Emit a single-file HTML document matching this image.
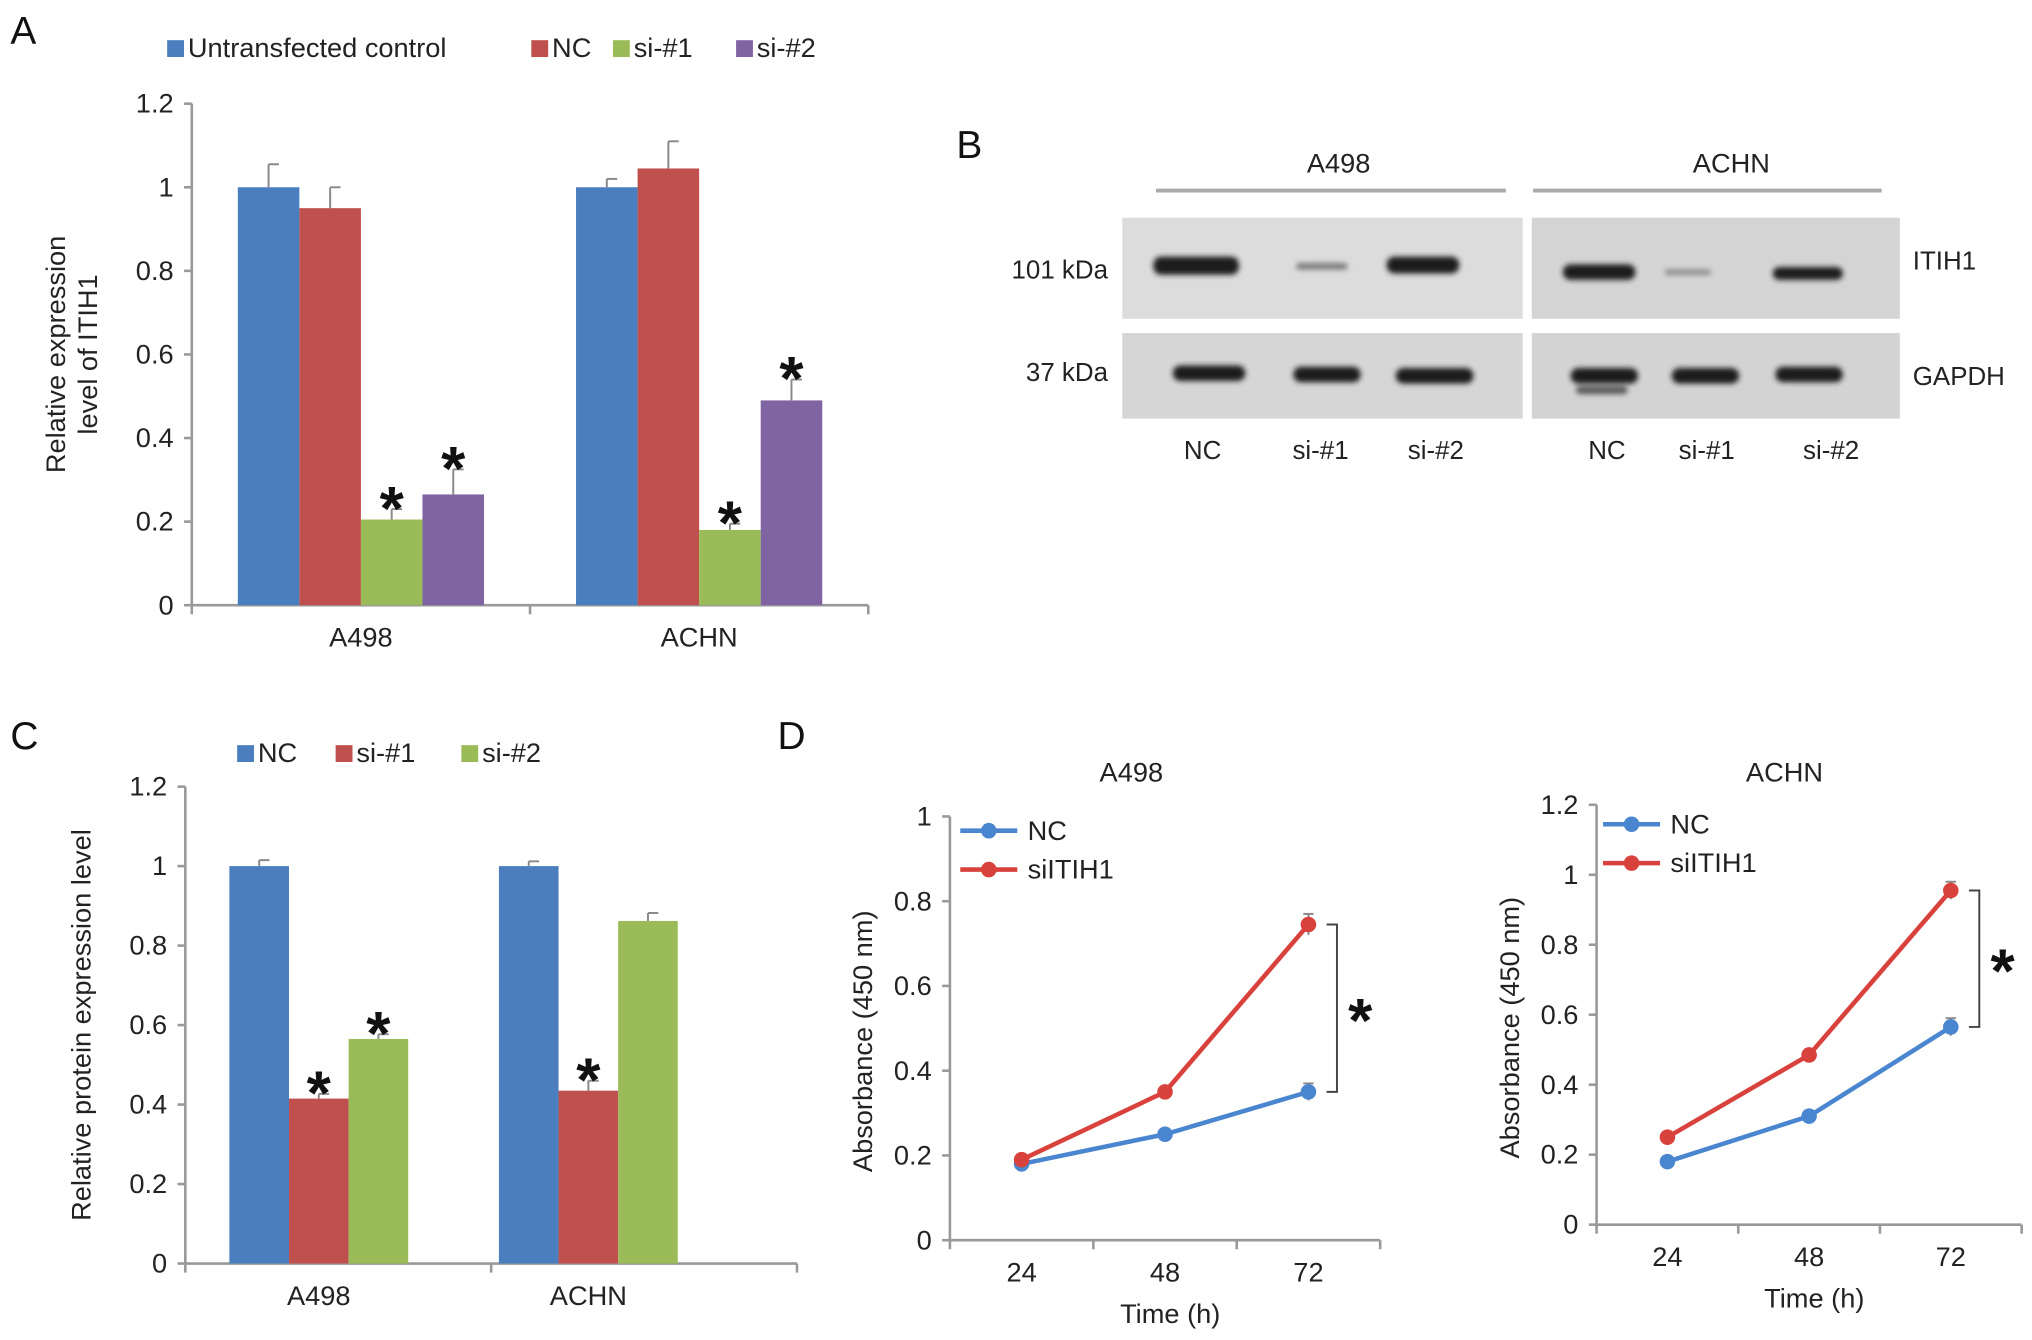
<!DOCTYPE html>
<html><head><meta charset="utf-8"><style>
html,body{margin:0;padding:0;background:#fff;}
svg{display:block;font-family:"Liberation Sans",Arial,sans-serif;}
</style></head><body>
<svg id="fig" width="2032" height="1340" viewBox="0 0 1568 1034" xmlns="http://www.w3.org/2000/svg">
<defs>
<filter id="blur1"><feGaussianBlur stdDeviation="2"/></filter>
</defs>
<g font-size="30" fill="#111">
<text x="8" y="34">A</text>
<text x="738" y="122">B</text>
<text x="8" y="578">C</text>
<text x="600" y="578">D</text>
</g>
<g>
<line x1="892" y1="147" x2="1162" y2="147" stroke="#aaa" stroke-width="3"/>
<line x1="1183" y1="147" x2="1452" y2="147" stroke="#aaa" stroke-width="3"/>
<text x="1033" y="133" font-size="21" text-anchor="middle" fill="#222">A498</text>
<text x="1336" y="133" font-size="21" text-anchor="middle" fill="#222">ACHN</text>
<text x="855" y="215" font-size="20" text-anchor="end" fill="#222">101 kDa</text>
<text x="855" y="294" font-size="20" text-anchor="end" fill="#222">37 kDa</text>
<text x="1476" y="208" font-size="20" fill="#222">ITIH1</text>
<text x="1476" y="297" font-size="20" fill="#222">GAPDH</text>
<rect x="866" y="168" width="309" height="78" fill="#dcdcdc"/>
<rect x="1182" y="168" width="284" height="78" fill="#d4d4d4"/>
<rect x="866" y="257" width="309" height="66" fill="#d6d6d6"/>
<rect x="1182" y="257" width="284" height="66" fill="#d3d3d3"/>
<g filter="url(#blur1)" fill="#1a1a1a">
<rect x="890" y="198" width="66" height="14" rx="6"/>
<rect x="1000" y="203" width="40" height="5" rx="3" fill="#777"/>
<rect x="1070" y="198" width="56" height="13" rx="6"/>
<rect x="1206" y="204" width="56" height="12" rx="6"/>
<rect x="1285" y="208" width="35" height="4" fill="#888"/>
<rect x="1368" y="206" width="54" height="10" rx="5"/>
<rect x="905" y="282" width="56" height="12" rx="6"/>
<rect x="998" y="283" width="52" height="12" rx="6"/>
<rect x="1077" y="284" width="60" height="12" rx="6"/>
<rect x="1212" y="284" width="52" height="12" rx="6"/>
<rect x="1290" y="284" width="52" height="12" rx="6"/>
<rect x="1370" y="283" width="52" height="12" rx="6"/>
<rect x="1216" y="298" width="40" height="6" rx="3" fill="#555"/>
</g>
<g font-size="20" fill="#222" text-anchor="middle">
<text x="928" y="354">NC</text><text x="1019" y="354">si-#1</text><text x="1108" y="354">si-#2</text>
<text x="1240" y="354">NC</text><text x="1317" y="354">si-#1</text><text x="1413" y="354">si-#2</text>
</g>
</g>
<g id="panelA"></g>
<g id="panelC"></g>
<g id="panelD1"></g>
<g id="panelD2"></g>
</svg>
<script>
// Panel A data
const aCategories = ["A498", "ACHN"];
const aSeriesNames = ["Untransfected control", "NC", "si-#1", "si-#2"];
const aValues = [[1.0, 0.95, 0.205, 0.265], [1.0, 1.045, 0.18, 0.49]];
const aErrors = [[0.055, 0.05, 0.025, 0.06], [0.02, 0.065, 0.015, 0.05]];
const aStars = [[false, false, true, true], [false, false, true, true]];
const aTicks = ["0", "0.2", "0.4", "0.6", "0.8", "1", "1.2"];
// Panel C data
const cCategories = ["A498", "ACHN"];
const cSeriesNames = ["NC", "si-#1", "si-#2"];
const cValues = [[1.0, 0.415, 0.565], [1.0, 0.435, 0.862]];
const cErrors = [[0.015, 0.012, 0.012], [0.012, 0.025, 0.02]];
const cStars = [[false, true, true], [false, true, false]];
const cTicks = ["0", "0.2", "0.4", "0.6", "0.8", "1", "1.2"];
// Panel D data
const dTimes = ["24", "48", "72"];
const d1NC = [0.18, 0.25, 0.35];
const d1Si = [0.19, 0.35, 0.745];
const d1NCErr = [0.01, 0.01, 0.02];
const d1SiErr = [0.01, 0.01, 0.025];
const d1Ticks = ["0", "0.2", "0.4", "0.6", "0.8", "1"];
const d2NC = [0.18, 0.31, 0.565];
const d2Si = [0.25, 0.485, 0.955];
const d2NCErr = [0.01, 0.01, 0.025];
const d2SiErr = [0.01, 0.01, 0.025];
const d2Ticks = ["0", "0.2", "0.4", "0.6", "0.8", "1", "1.2"];

const NS = "http://www.w3.org/2000/svg";
function mk(parent, tag, attrs, text) {
  const e = document.createElementNS(NS, tag);
  for (const k in attrs) e.setAttribute(k, attrs[k]);
  if (text !== undefined) e.textContent = text;
  parent.appendChild(e);
  return e;
}

function barChart(g, o, cats, names, vals, errs, stars, ticks, colors) {
  const ymax = parseFloat(ticks[ticks.length - 1]);
  const y = v => o.y0 - (v / ymax) * (o.y0 - o.y1);
  const ax = mk(g, "line", {x1: o.x0, y1: o.y1, x2: o.x0, y2: o.y0, stroke: "#999", "stroke-width": 2});
  
  
  const xa = mk(g, "line", {x1: o.x0, y1: o.y0, x2: o.x2, y2: o.y0, stroke: "#999", "stroke-width": 2});
  
  
  ticks.forEach(t => {
    const yy = y(parseFloat(t));
    mk(g, "line", {x1: o.x0 - 6, y1: yy, x2: o.x0, y2: yy, stroke: "#999", "stroke-width": 2});
    const tl = mk(g, "text", {x: o.x0 - 14, y: yy + 7, "font-size": 21, "text-anchor": "end", fill: "#222"}, t);
    
    
  });
  const gw = (o.x2 - o.x0) / cats.length;
  for (let i = 0; i <= cats.length; i++) mk(g, "line", {x1: o.x0 + gw * i, y1: o.y0, x2: o.x0 + gw * i, y2: o.y0 + 7, stroke: "#999", "stroke-width": 2});
  cats.forEach((c, ci) => {
    const cx = o.x0 + gw * (ci + 0.5) + o.shift[ci];
    const n = names.length;
    const start = cx - n * o.bw / 2;
    const cl = mk(g, "text", {x: cx, y: o.y0 + 32, "font-size": 21, "text-anchor": "middle", fill: "#222"}, c);
    
    
    names.forEach((nm, si) => {
      const v = vals[ci][si], x = start + si * o.bw;
      const b = mk(g, "rect", {x: x, y: y(v), width: o.bw, height: o.y0 - y(v), fill: colors[si]});
      
      
      const top = y(v + errs[ci][si]);
      mk(g, "line", {x1: x + o.bw / 2, y1: y(v), x2: x + o.bw / 2, y2: top, stroke: "#888", "stroke-width": 1.5});
      mk(g, "line", {x1: x + o.bw / 2, y1: top, x2: x + o.bw / 2 + 8, y2: top, stroke: "#888", "stroke-width": 1.5});
      if (stars[ci][si]) {
        const s = mk(g, "text", {x: x + o.bw / 2, y: top + 16, "font-size": 48, "font-weight": "bold", "text-anchor": "middle", fill: "#111"}, "*");
        
        
      }
    });
  });
  const yt = mk(g, "text", {transform: `translate(${o.ytx},${(o.y0 + o.y1) / 2}) rotate(-90)`, "font-size": 21, "text-anchor": "middle", fill: "#222"});
  
  
  o.ytitle.forEach((line, i) => mk(yt, "tspan", {x: 0, dy: i === 0 ? 0 : 25}, line));
  o.legend.forEach((L, i) => {
    const le = mk(g, "g", {});
    
    
    mk(le, "rect", {x: L[0], y: o.ly - 13, width: 13, height: 13, fill: colors[i]});
    mk(le, "text", {x: L[0] + 16, y: o.ly, "font-size": 21, fill: "#222"}, names[i]);
  });
}

barChart(document.getElementById("panelA"),
  {x0: 148, x2: 670, y0: 467, y1: 80, bw: 47.5, shift: [0, 0], ytx: 50, ytitle: ["Relative expression", "level of ITIH1"], ly: 44,
   legend: [[129], [410], [473], [568]]},
  aCategories, aSeriesNames, aValues, aErrors, aStars, aTicks, ["#4a7ebf", "#c0504d", "#9bbb59", "#8064a2"]);
barChart(document.getElementById("panelC"),
  {x0: 143, x2: 615, y0: 975, y1: 607, bw: 46, shift: [-15, -43], ytx: 70, ytitle: ["Relative protein expression level"], ly: 588,
   legend: [[183], [259], [356]]},
  cCategories, cSeriesNames, cValues, cErrors, cStars, cTicks, ["#4a7ebf", "#c0504d", "#9bbb59"]);

function lineChart(g, o, times, nc, si, ncE, siE, ticks) {
  const ymax = parseFloat(ticks[ticks.length - 1]);
  const y = v => o.y0 - (v / ymax) * (o.y0 - o.y1);
  const xw = (o.x2 - o.x0) / times.length;
  const x = i => o.x0 + xw * (i + 0.5);
  mk(g, "line", {x1: o.x0, y1: o.y1, x2: o.x0, y2: o.y0, stroke: "#999", "stroke-width": 2});
  mk(g, "line", {x1: o.x0, y1: o.y0, x2: o.x2, y2: o.y0, stroke: "#999", "stroke-width": 2});
  ticks.forEach(t => {
    const yy = y(parseFloat(t));
    mk(g, "line", {x1: o.x0 - 6, y1: yy, x2: o.x0, y2: yy, stroke: "#999", "stroke-width": 2});
    const tl = mk(g, "text", {x: o.x0 - 14, y: yy + 7, "font-size": 21, "text-anchor": "end", fill: "#222"}, t);
    
    
  });
  for (let i = 0; i <= times.length; i++) mk(g, "line", {x1: o.x0 + xw * i, y1: o.y0, x2: o.x0 + xw * i, y2: o.y0 + 7, stroke: "#999", "stroke-width": 2});
  times.forEach((t, i) => {
    const tl = mk(g, "text", {x: x(i), y: o.y0 + 32, "font-size": 21, "text-anchor": "middle", fill: "#222"}, t);
    
    
  });
  const xt = mk(g, "text", {x: (o.x0 + o.x2) / 2 + 4, y: o.y0 + 64, "font-size": 21, "text-anchor": "middle", fill: "#222"}, "Time (h)");
  
  
  const yt = mk(g, "text", {transform: `translate(${o.x0 - 60},${(o.y0 + o.y1) / 2 + 10}) rotate(-90)`, "font-size": 21, "text-anchor": "middle", fill: "#222"}, "Absorbance (450 nm)");
  
  
  const ti = mk(g, "text", {x: o.tx, y: o.ty, "font-size": 21, "text-anchor": "middle", fill: "#222"}, o.title);
  
  
  [[nc, ncE, "#4a86cf", "NC"], [si, siE, "#d9423c", "siITIH1"]].forEach((s, k) => {
    const pts = s[0].map((v, i) => x(i) + "," + y(v)).join(" ");
    const pl = mk(g, "polyline", {points: pts, fill: "none", stroke: s[2], "stroke-width": 3.5});
    
    
    s[0].forEach((v, i) => {
      mk(g, "line", {x1: x(i), y1: y(v + s[1][i]), x2: x(i), y2: y(v - s[1][i]), stroke: "#888", "stroke-width": 1.5});
      mk(g, "line", {x1: x(i) - 4, y1: y(v + s[1][i]), x2: x(i) + 4, y2: y(v + s[1][i]), stroke: "#888", "stroke-width": 1.5});
      const c = mk(g, "circle", {cx: x(i), cy: y(v), r: 6, fill: s[2]});
      
      
    });
    const le = mk(g, "g", {});
    
    
    const ly = o.ly + k * 30;
    mk(le, "line", {x1: o.lx, y1: ly, x2: o.lx + 44, y2: ly, stroke: s[2], "stroke-width": 3.5});
    mk(le, "circle", {cx: o.lx + 22, cy: ly, r: 6, fill: s[2]});
    mk(le, "text", {x: o.lx + 52, y: ly + 7, "font-size": 21, fill: "#222"}, s[3]);
  });
  const last = times.length - 1;
  const bx = x(last) + 22;
  const yt1 = y(si[last]), yb = y(nc[last]);
  mk(g, "polyline", {points: `${bx - 8},${yt1} ${bx},${yt1} ${bx},${yb} ${bx - 8},${yb}`, fill: "none", stroke: "#444", "stroke-width": 1.5});
  const st = mk(g, "text", {x: bx + 18, y: (yt1 + yb) / 2 + 26, "font-size": 48, "font-weight": "bold", "text-anchor": "middle", fill: "#111"}, "*");
  
  
}
lineChart(document.getElementById("panelD1"),
  {x0: 733, x2: 1065, y0: 957, y1: 630, tx: 873, ty: 603, title: "A498", lx: 741, ly: 641},
  dTimes, d1NC, d1Si, d1NCErr, d1SiErr, d1Ticks);
lineChart(document.getElementById("panelD2"),
  {x0: 1232, x2: 1560, y0: 945, y1: 621, tx: 1377, ty: 603, title: "ACHN", lx: 1237, ly: 636},
  dTimes, d2NC, d2Si, d2NCErr, d2SiErr, d2Ticks);
</script>
</body></html>
